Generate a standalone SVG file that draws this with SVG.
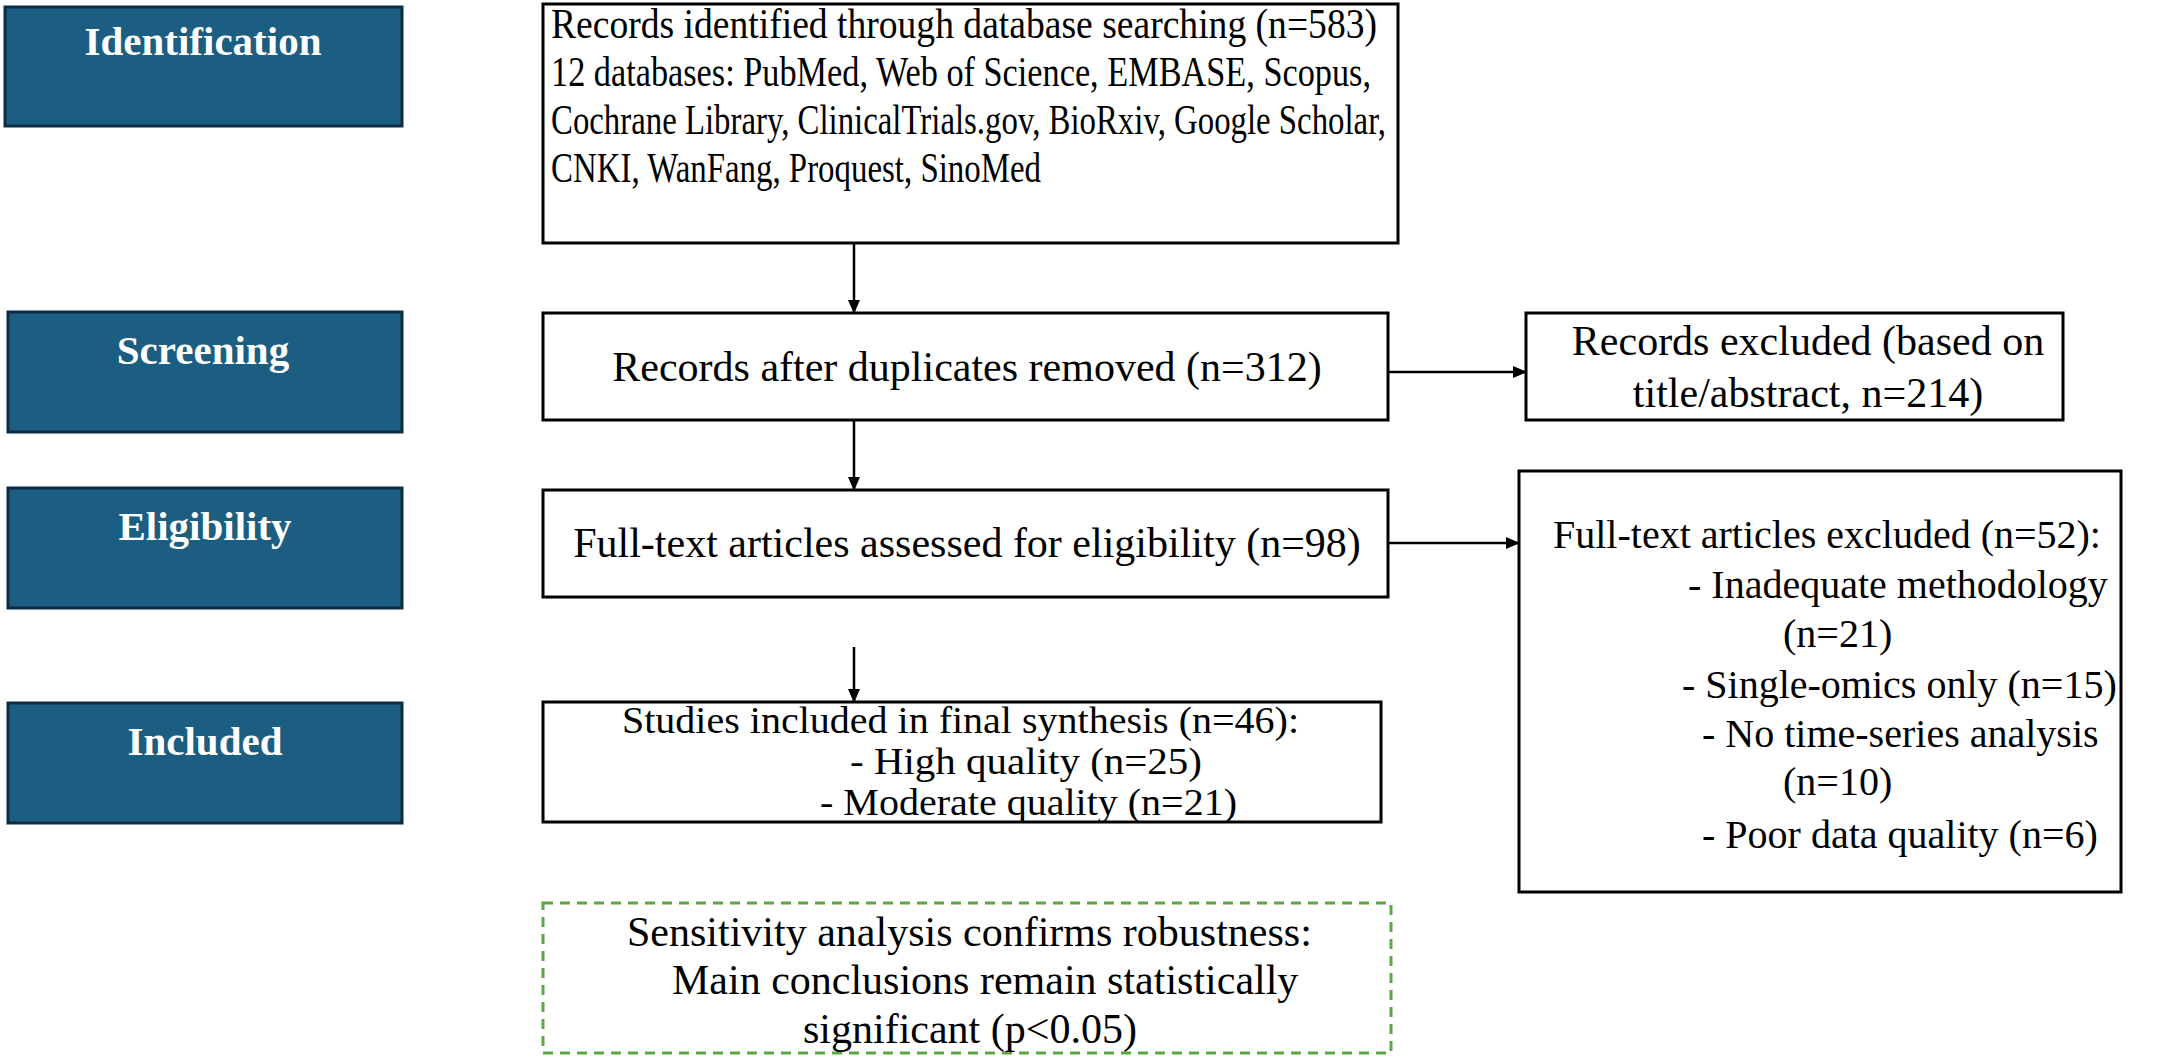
<svg xmlns="http://www.w3.org/2000/svg" width="2159" height="1057" viewBox="0 0 2159 1057">
<style>
.bg{fill:#ffffff}
.stage{fill:#1b5e82;stroke:#0e2d42;stroke-width:3}
.stl{font-family:"Liberation Serif","Times New Roman",serif;font-weight:bold;font-size:41px;fill:#ffffff;text-anchor:middle}
.box{fill:#ffffff;stroke:#000000;stroke-width:3}
.dash{fill:#ffffff;stroke:#5ba745;stroke-width:3;stroke-dasharray:10 7}
.t{font-family:"Liberation Serif","Times New Roman",serif;font-size:42px;fill:#000000}
.ta{font-size:43px}
.tr{font-size:40px}
.td{font-size:38px}
.m{text-anchor:middle}
.conn{stroke:#000000;stroke-width:2.5;fill:none}
</style>
<defs>
<marker id="ah" markerWidth="14" markerHeight="14" refX="13" refY="7" orient="auto" markerUnits="userSpaceOnUse">
<path d="M0,1 L14,7 L0,13 Z" fill="#000000"/>
</marker>
</defs>
<rect class="bg" x="0" y="0" width="2159" height="1057"/>

<g id="stage-identification">
<rect class="stage" x="5" y="7" width="397" height="119"/>
<text class="stl" x="203" y="55">Identification</text>
</g>
<g id="stage-screening">
<rect class="stage" x="8" y="312" width="394" height="120"/>
<text class="stl" x="203" y="364">Screening</text>
</g>
<g id="stage-eligibility">
<rect class="stage" x="8" y="488" width="394" height="120"/>
<text class="stl" x="205" y="540">Eligibility</text>
</g>
<g id="stage-included">
<rect class="stage" x="8" y="703" width="394" height="120"/>
<text class="stl" x="205" y="755">Included</text>
</g>

<g id="node-identified">
<rect class="box" x="543" y="4" width="855" height="239"/>
<text class="t ta" x="551" y="38" textLength="826" lengthAdjust="spacingAndGlyphs">Records identified through database searching (n=583)</text>
<text class="t ta" x="551" y="86" textLength="820" lengthAdjust="spacingAndGlyphs">12 databases: PubMed, Web of Science, EMBASE, Scopus,</text>
<text class="t ta" x="551" y="134" textLength="835" lengthAdjust="spacingAndGlyphs">Cochrane Library, ClinicalTrials.gov, BioRxiv, Google Scholar,</text>
<text class="t ta" x="551" y="182" textLength="490" lengthAdjust="spacingAndGlyphs">CNKI, WanFang, Proquest, SinoMed</text>
</g>

<g id="node-dedup">
<rect class="box" x="543" y="313" width="845" height="107"/>
<text class="t m" x="967" y="381">Records after duplicates removed (n=312)</text>
</g>

<g id="node-excluded-records">
<rect class="box" x="1526" y="313" width="537" height="107"/>
<text class="t m" x="1808" y="355">Records excluded (based on</text>
<text class="t m" x="1808" y="407">title/abstract, n=214)</text>
</g>

<g id="node-fulltext">
<rect class="box" x="543" y="490" width="845" height="107"/>
<text class="t m" x="967" y="557">Full-text articles assessed for eligibility (n=98)</text>
</g>

<g id="node-excluded-fulltext">
<rect class="box" x="1519" y="471" width="602" height="421"/>
<text class="t tr" x="1553" y="548">Full-text articles excluded (n=52):</text>
<text class="t tr" x="1688" y="598">- Inadequate methodology</text>
<text class="t tr" x="1783" y="647">(n=21)</text>
<text class="t tr" x="1682" y="698">- Single-omics only (n=15)</text>
<text class="t tr" x="1702" y="747">- No time-series analysis</text>
<text class="t tr" x="1783" y="795">(n=10)</text>
<text class="t tr" x="1702" y="848">- Poor data quality (n=6)</text>
</g>

<g id="node-included">
<rect class="box" x="543" y="702" width="838" height="120"/>
<text class="t td" x="622" y="733" textLength="677" lengthAdjust="spacingAndGlyphs">Studies included in final synthesis (n=46):</text>
<text class="t td" x="850" y="774" textLength="352" lengthAdjust="spacingAndGlyphs">- High quality (n=25)</text>
<text class="t td" x="820" y="815" textLength="417" lengthAdjust="spacingAndGlyphs">- Moderate quality (n=21)</text>
</g>

<g id="node-sensitivity">
<rect class="dash" x="543" y="903" width="848" height="150"/>
<text class="t" x="627" y="946">Sensitivity analysis confirms robustness:</text>
<text class="t" x="672" y="994">Main conclusions remain statistically</text>
<text class="t" x="803" y="1043">significant (p&lt;0.05)</text>
</g>

<g id="connectors">
<line class="conn" x1="854" y1="243" x2="854" y2="313" marker-end="url(#ah)"/>
<line class="conn" x1="854" y1="420" x2="854" y2="490" marker-end="url(#ah)"/>
<line class="conn" x1="854" y1="647" x2="854" y2="702" marker-end="url(#ah)"/>
<line class="conn" x1="1388" y1="372" x2="1526" y2="372" marker-end="url(#ah)"/>
<line class="conn" x1="1388" y1="543" x2="1519" y2="543" marker-end="url(#ah)"/>
</g>
</svg>
